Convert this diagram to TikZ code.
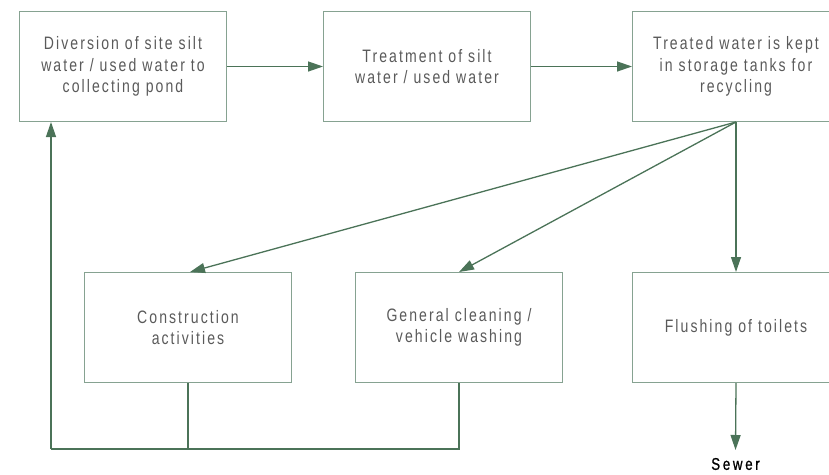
\documentclass[tikz,border=0pt]{standalone}
\usepackage{fontspec}
\setmainfont{Liberation Sans}[FakeStretch=0.78,LetterSpace=11.5]
\usetikzlibrary{arrows.meta}
\definecolor{lineg}{HTML}{4B7358}
\definecolor{boxg}{HTML}{86A291}
\definecolor{txtg}{HTML}{5A5A5A}
\tikzset{
  box/.style={draw=boxg,line width=1pt,minimum width=207pt,minimum height=110pt,
    inner sep=0pt,align=center,text=txtg,font=\fontsize{18}{21.5}\selectfont,anchor=north west},
  conn/.style={draw=lineg,line width=1.3pt,-{Triangle[length=15pt,width=10pt]}},
  plain/.style={draw=lineg,line width=1.3pt}
}
\begin{document}
\begin{tikzpicture}[x=1pt,y=-1pt]
\useasboundingbox (0,0) rectangle (829,474);
\node[box] (b1) at (19,11) {Diversion of site silt\\water / used water to\\collecting pond};
\node[box] (b2) at (323,11) {Treatment of silt\\water / used water};
\node[box] (b3) at (632,11) {Treated water is kept\\in storage tanks for\\recycling};
\node[box] (b4) at (84,272) {Construction\\activities};
\node[box] (b5) at (355,272) {General cleaning /\\vehicle washing};
\node[box] (b6) at (632,272) {Flushing of toilets};
\node[font=\fontsize{17}{18}\selectfont\addfontfeature{FakeBold=0.8,LetterSpace=16},text=black,inner sep=0pt] (sewer) at (735.5,464) {Sewer};
\coordinate (src) at (b3.south);
\coordinate (sw) at (735.5,450);
\draw[conn] (b1.east) -- (b2.west);
\draw[conn] (b2.east) -- (b3.west);
\draw[conn] (src) -- ([xshift=2pt]b4.north);
\draw[conn] (src) -- (b5.north);
\draw[conn] (src) -- (b6.north);
\draw[conn] (b6.south) -- (sw);
\coordinate (fb) at (51,449);
\draw[plain] (b5.south) |- (fb);
\draw[plain] (b4.south) -- (b4.south |- fb);
\draw[conn] (fb) -- (fb |- b1.south);
\end{tikzpicture}
\end{document}
